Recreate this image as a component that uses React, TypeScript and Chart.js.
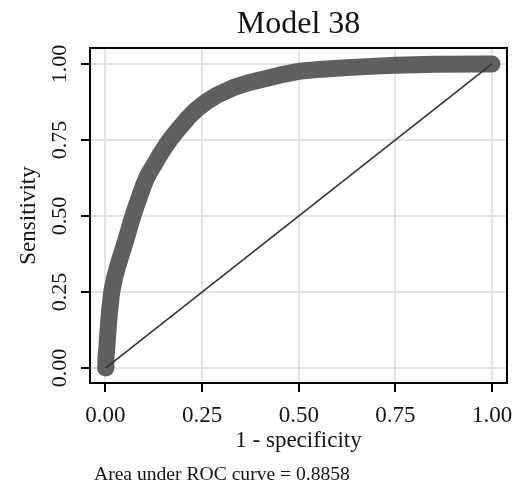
import React, { useEffect, useRef } from "react";
import { Chart, registerables } from "chart.js";

Chart.register(...registerables);

// ROC curve (1 - specificity, sensitivity)
const rocFpr = [0, 0.001, 0.003, 0.006, 0.01, 0.016, 0.024, 0.034, 0.045, 0.056, 0.066, 0.076, 0.087, 0.098, 0.11, 0.124, 0.14, 0.158, 0.175, 0.195, 0.215, 0.235, 0.26, 0.288, 0.33, 0.375, 0.418, 0.46, 0.5, 0.56, 0.625, 0.7, 0.75, 0.85, 1.0];
const rocTpr = [0, 0.03, 0.06, 0.115, 0.18, 0.25, 0.3, 0.345, 0.39, 0.435, 0.48, 0.52, 0.56, 0.6, 0.635, 0.665, 0.7, 0.735, 0.765, 0.795, 0.825, 0.85, 0.875, 0.897, 0.922, 0.94, 0.953, 0.966, 0.976, 0.983, 0.988, 0.993, 0.996, 0.999, 1.0];

// Reference (chance) line
const diagX = [0, 1];
const diagY = [0, 1];

const xTicks = [0, 0.25, 0.5, 0.75, 1];
const yTicks = [0, 0.25, 0.5, 0.75, 1];

const titleText = "Model 38";
const xTitle = "1 - specificity";
const yTitle = "Sensitivity";
const footnote = "Area under ROC curve = 0.8858";

const FONT = "'Liberation Serif', 'Times New Roman', serif";
const TEXT = "#141414";

const decorPlugin = {
  id: "decor",
  afterDraw(chart: any) {
    const { ctx, chartArea } = chart;
    const ys = chart.scales.y;
    ctx.save();
    // frame
    ctx.strokeStyle = "#000";
    ctx.lineWidth = 2;
    ctx.strokeRect(chartArea.left, chartArea.top, chartArea.right - chartArea.left, chartArea.bottom - chartArea.top);
    // rotated y tick labels
    ctx.fillStyle = TEXT;
    ctx.font = `22px ${FONT}`;
    ctx.textAlign = "center";
    ctx.textBaseline = "alphabetic";
    yTicks.forEach((v) => {
      const py = ys.getPixelForValue(v);
      ctx.save();
      ctx.translate(chartArea.left - 24, py);
      ctx.rotate(-Math.PI / 2);
      ctx.fillText(v.toFixed(2), 0, 0);
      ctx.restore();
    });
    // title
    ctx.font = `32px ${FONT}`;
    ctx.textAlign = "center";
    ctx.fillText(titleText, (chartArea.left + chartArea.right) / 2, 33);
    // footnote
    ctx.font = `19.6px ${FONT}`;
    ctx.textAlign = "left";
    ctx.fillText(footnote, 94, 480);
    ctx.restore();
  },
};

export default function App() {
  const ref = useRef<HTMLCanvasElement | null>(null);

  useEffect(() => {
    if (!ref.current) return;
    const chart = new Chart(ref.current, {
      type: "scatter",
      data: {
        datasets: [
          {
            type: "line",
            label: "Reference",
            data: diagX.map((x, i) => ({ x, y: diagY[i] })),
            borderColor: "#333333",
            borderWidth: 1.6,
            pointRadius: 0,
            showLine: true,
            fill: false,
          },
          {
            type: "line",
            label: "ROC",
            data: rocFpr.map((x, i) => ({ x, y: rocTpr[i] })),
            borderColor: "#5f5f5f",
            borderWidth: 17,
            borderCapStyle: "round",
            borderJoinStyle: "round",
            pointRadius: 0,
            showLine: true,
            fill: false,
            tension: 0,
          },
        ],
      },
      options: {
        responsive: false,
        animation: false,
        layout: { padding: { left: 0, right: 19, top: 48, bottom: 0 } },
        plugins: {
          legend: { display: false },
          tooltip: { enabled: false },
          title: { display: false },
        },
        scales: {
          x: {
            type: "linear",
            min: -0.0401,
            max: 1.0388,
            afterBuildTicks: (s: any) => {
              s.ticks = xTicks.map((v) => ({ value: v }));
            },
            afterFit: (s: any) => {
              s.height = 104;
            },
            grid: {
              color: "#e4e4e4",
              lineWidth: 2,
              tickColor: "#000",
              tickWidth: 2,
              tickLength: 9,
              drawTicks: true,
            },
            border: { display: true, color: "#000", width: 2 },
            ticks: {
              color: TEXT,
              font: { family: FONT, size: 23 },
              padding: 10,
              maxRotation: 0,
              minRotation: 0,
              callback: (v: any) => Number(v).toFixed(2),
            },
            title: {
              display: true,
              text: xTitle,
              color: TEXT,
              font: { family: FONT, size: 23 },
              padding: { top: 0, bottom: 32 },
            },
          },
          y: {
            type: "linear",
            min: -0.0493,
            max: 1.0526,
            afterBuildTicks: (s: any) => {
              s.ticks = yTicks.map((v) => ({ value: v }));
            },
            afterFit: (s: any) => {
              s.width = 90;
            },
            grid: {
              color: "#e4e4e4",
              lineWidth: 2,
              tickColor: "#000",
              tickWidth: 2,
              tickLength: 9,
              drawTicks: true,
            },
            border: { display: true, color: "#000", width: 2 },
            ticks: { display: false },
            title: {
              display: true,
              text: yTitle,
              color: TEXT,
              font: { family: FONT, size: 23 },
              padding: { top: 15, bottom: 0 },
            },
          },
        },
      },
      plugins: [decorPlugin],
    });
    return () => chart.destroy();
  }, []);

  return (
    <div style={{ position: "absolute", left: 0, top: 0, width: 526, height: 487, background: "#fff" }}>
      <canvas ref={ref} width={526} height={487} style={{ display: "block", width: 526, height: 487 }} />
    </div>
  );
}
